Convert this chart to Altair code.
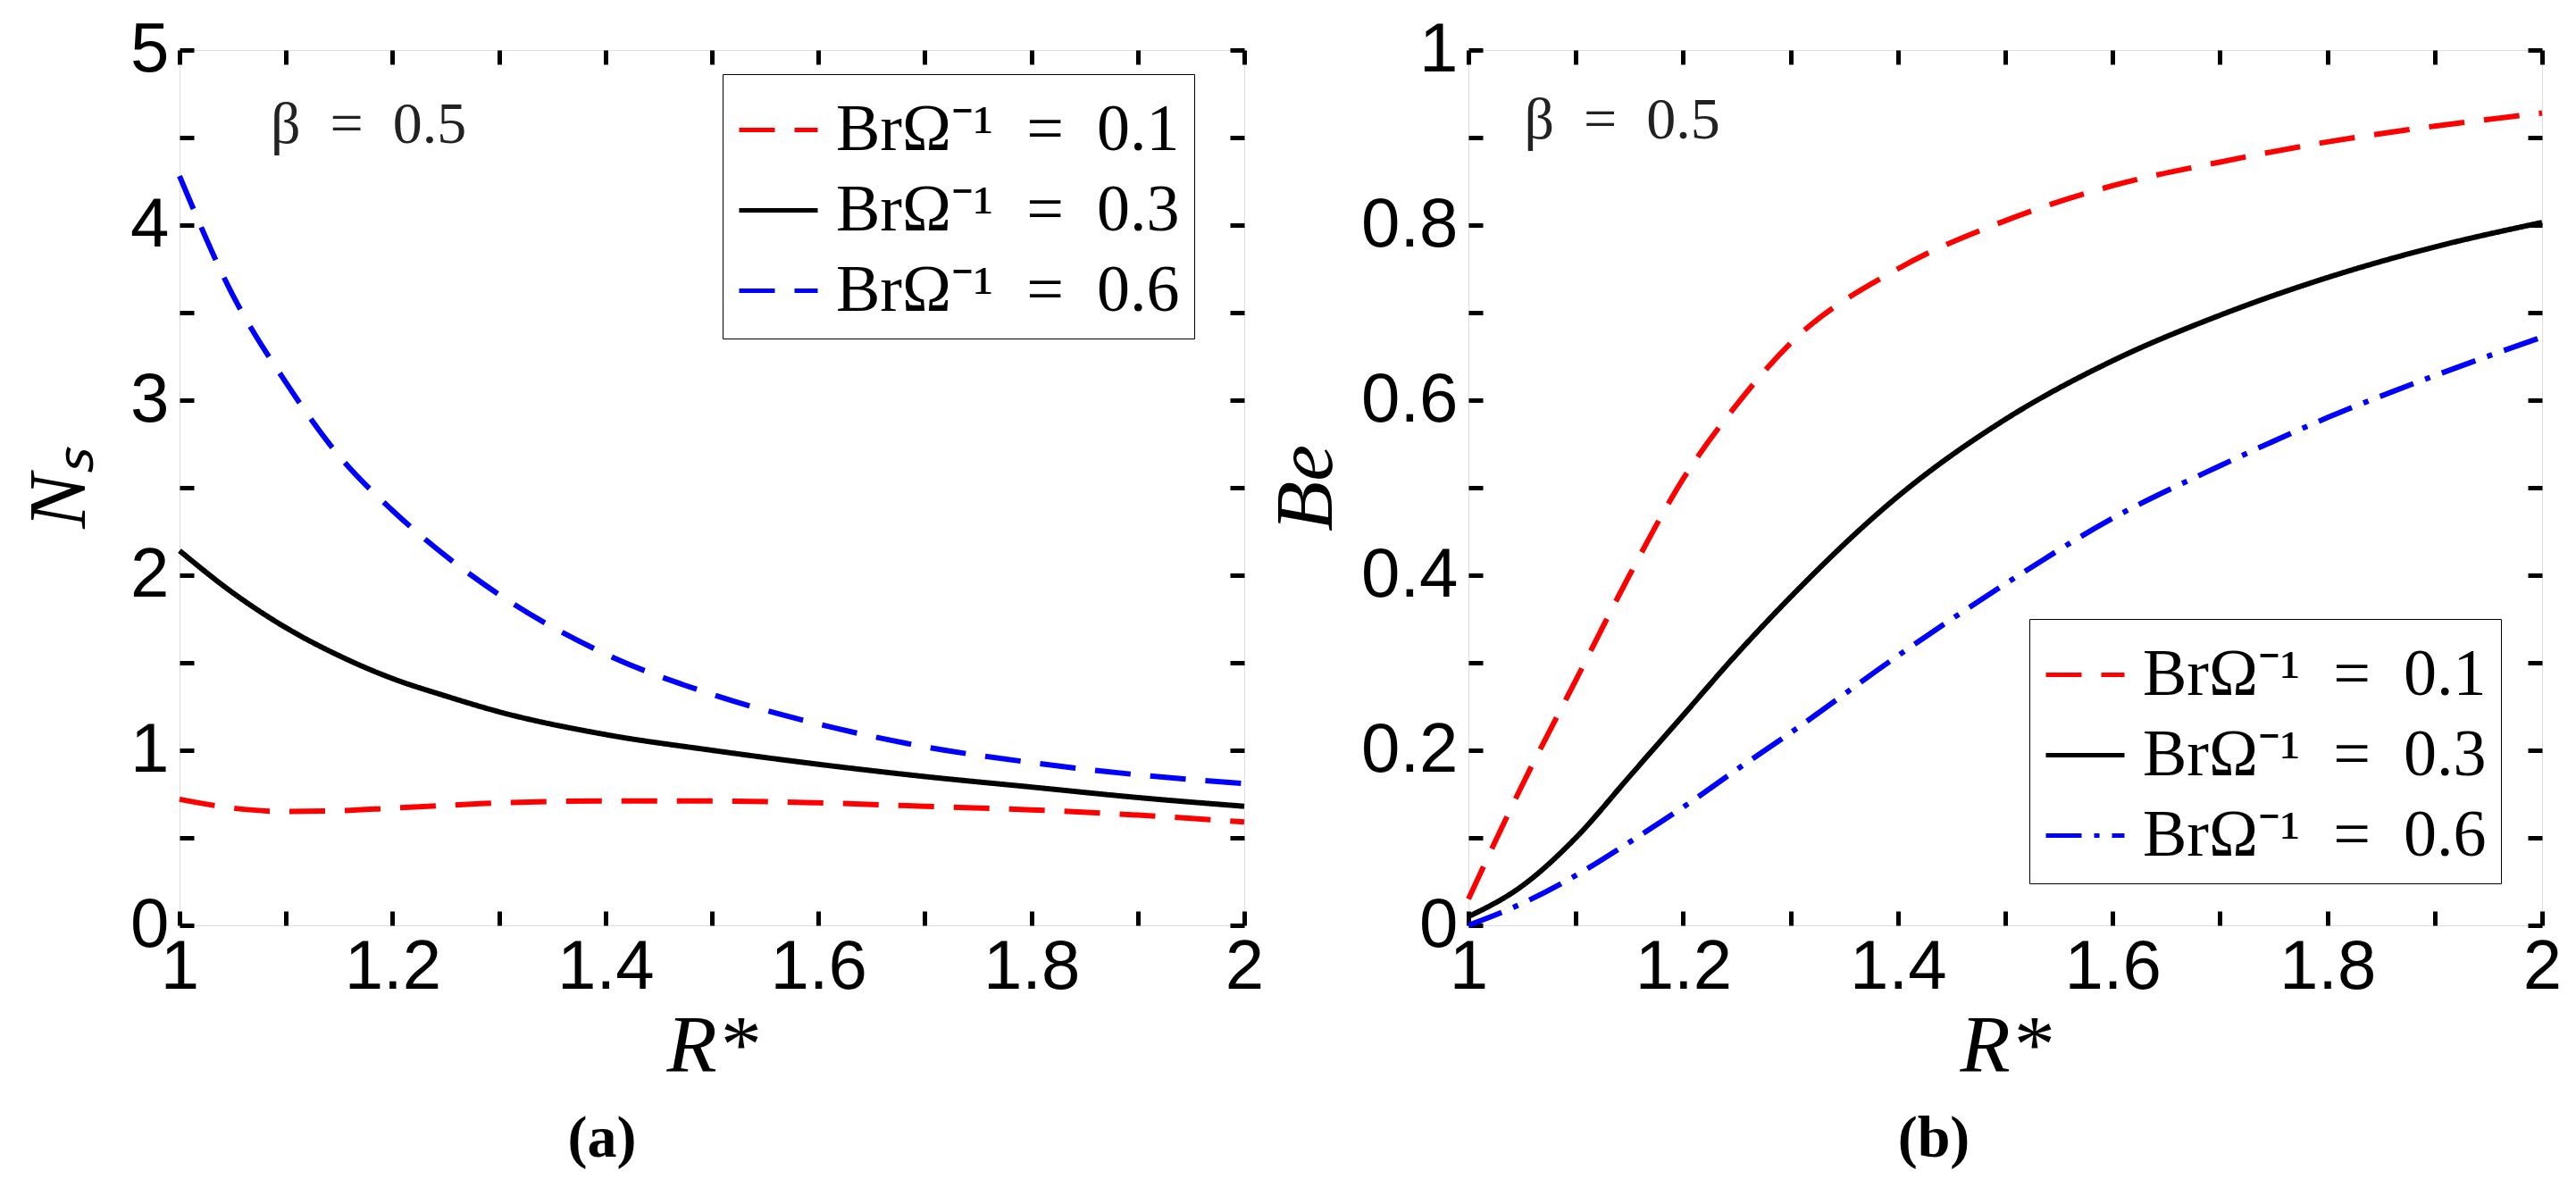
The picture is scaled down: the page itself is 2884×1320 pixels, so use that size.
import altair as alt
import pandas as pd

R = [1.0, 1.05, 1.1, 1.15, 1.2, 1.25, 1.3, 1.4, 1.5, 1.6, 1.7, 1.8, 1.9, 2.0]

ns_01 = [0.72, 0.67, 0.65, 0.655, 0.67, 0.685, 0.70, 0.71, 0.71, 0.70, 0.68, 0.66, 0.63, 0.59]
ns_03 = [2.14, 1.90, 1.70, 1.54, 1.41, 1.31, 1.22, 1.09, 1.00, 0.92, 0.85, 0.79, 0.73, 0.68]
ns_06 = [4.28, 3.60, 3.10, 2.68, 2.37, 2.11, 1.89, 1.55, 1.32, 1.15, 1.02, 0.93, 0.86, 0.81]

be_01 = [0.03, 0.16, 0.28, 0.40, 0.51, 0.595, 0.665, 0.75, 0.805, 0.845, 0.872, 0.895, 0.913, 0.928]
be_03 = [0.01, 0.045, 0.10, 0.17, 0.24, 0.31, 0.375, 0.49, 0.578, 0.645, 0.697, 0.74, 0.775, 0.803]
be_06 = [0.0, 0.025, 0.057, 0.095, 0.135, 0.178, 0.22, 0.308, 0.39, 0.465, 0.525, 0.58, 0.628, 0.672]

series = ["BrΩ⁻¹\u2002=\u20020.1", "BrΩ⁻¹\u2002=\u20020.3", "BrΩ⁻¹\u2002=\u20020.6"]
colors = ["#ff0000", "#000000", "#0000ff"]

x_label_vals = [1.0, 1.2, 1.4, 1.6, 1.8, 2.0]
x_tick_vals = [1.0, 1.1, 1.2, 1.3, 1.4, 1.5, 1.6, 1.7, 1.8, 1.9, 2.0]
ns_label_vals = [0, 1, 2, 3, 4, 5]
ns_tick_vals = [0, 0.5, 1, 1.5, 2, 2.5, 3, 3.5, 4, 4.5, 5]
be_label_vals = [0, 0.2, 0.4, 0.6, 0.8, 1.0]
be_tick_vals = [0, 0.1, 0.2, 0.3, 0.4, 0.5, 0.6, 0.7, 0.8, 0.9, 1.0]

beta_text = "β\u2002=\u20020.5"


def long_df(ys):
    rows = []
    for s, vals in zip(series, ys):
        for r, v in zip(R, vals):
            rows.append({"R": r, "val": v, "series": s})
    return pd.DataFrame(rows)


TICK_LEN = 16
TICK_W = 5


def tick_axis(orient, offset, values):
    return alt.Axis(orient=orient, offset=offset, values=values, labels=False,
                    ticks=True, tickSize=TICK_LEN, tickWidth=TICK_W, tickColor="black",
                    domain=False, grid=False, title=None)


def panel(ys, ydom, ylabels, yticks, ytitle, dashes, lx, ly, W, H, caption, cap_dx,
          beta_x, beta_y, ytitle_pad):
    df = long_df(ys)
    xs = alt.Scale(domain=[1, 2], nice=False, zero=False)
    yscale = alt.Scale(domain=ydom, nice=False, zero=False)
    leg = alt.Legend(orient="none", legendX=lx, legendY=ly, title=None,
                     symbolType="stroke", symbolStrokeWidth=5, symbolSize=7744,
                     labelFont="Liberation Serif", labelFontSize=74, labelColor="black",
                     labelLimit=900, labelOffset=18,
                     strokeColor="black", fillColor="white", padding=16, rowPadding=6)
    lines = alt.Chart(df).mark_line(strokeWidth=6, interpolate="monotone").encode(
        x=alt.X("R:Q", scale=xs, axis=alt.Axis(
            orient="bottom", values=x_label_vals, format="~g", ticks=False, domain=False,
            grid=False, labelFont="Liberation Sans", labelFontSize=78, labelColor="black",
            labelPadding=8, labelFlush=False, labelOverlap=False,
            title="R*", titleFont="Liberation Serif", titleFontStyle="italic",
            titleFontWeight="normal", titleFontSize=92, titleColor="black",
            titlePadding=4)),
        y=alt.Y("val:Q", scale=yscale, axis=alt.Axis(
            orient="left", values=ylabels, format="~g", ticks=False, domain=False,
            grid=False, labelFont="Liberation Sans", labelFontSize=78, labelColor="black",
            labelPadding=12, labelFlush=False, labelOverlap=False,
            title=ytitle, titleFont="Liberation Serif", titleFontStyle="italic",
            titleFontWeight="normal", titleFontSize=92, titleColor="black",
            titlePadding=ytitle_pad)),
        color=alt.Color("series:N", scale=alt.Scale(domain=series, range=colors), legend=leg),
        strokeDash=alt.StrokeDash("series:N", scale=alt.Scale(domain=series, range=dashes),
                                  legend=leg),
    )
    tdf = pd.DataFrame({"R": [beta_x], "val": [beta_y], "t": [beta_text]})
    txt = alt.Chart(tdf).mark_text(align="left", baseline="middle", font="Liberation Serif",
                                   fontSize=66, color="#222222").encode(
        x=alt.X("R:Q", scale=xs, axis=tick_axis("top", -H, x_tick_vals)),
        y=alt.Y("val:Q", scale=yscale, axis=tick_axis("right", -W, yticks)),
        text="t:N",
    )
    dummy = alt.Chart(tdf).mark_point(opacity=0).encode(
        x=alt.X("R:Q", scale=xs, axis=tick_axis("bottom", -H, x_tick_vals)),
        y=alt.Y("val:Q", scale=yscale, axis=tick_axis("left", -W, yticks)),
    )
    return alt.layer(lines, txt, dummy).resolve_axis(x="independent", y="independent").properties(
        width=W, height=H,
        title=alt.TitleParams(text=caption, orient="bottom", anchor="middle",
                              font="Liberation Serif", fontSize=66, fontWeight="bold",
                              color="black", dx=cap_dx, offset=26),
    )


H = 980
left = panel([ns_01, ns_03, ns_06], [0, 5], ns_label_vals, ns_tick_vals, "Nₛ",
             [[40, 22], [1, 0], [40, 22]], 608, 27, 1192, H, "(a)", -123,
             1.0856, 4.57, 32)
right = panel([be_01, be_03, be_06], [0, 1], be_label_vals, be_tick_vals, "Be",
              [[40, 22], [1, 0], [40, 14, 6, 14]], 628, 637, 1202, H, "(b)", -80,
              1.052, 0.919, 14)

chart = alt.hconcat(left, right, spacing=0).resolve_scale(
    x="independent", y="independent", color="independent", strokeDash="independent"
).resolve_legend(color="independent", strokeDash="independent").properties(
    padding={"left": 12, "top": 8, "right": 5, "bottom": 5}
).configure_view(stroke="black", strokeWidth=8).configure_legend(
    strokeWidth=3
).configure(background="white")

chart.save("out.html", embed_options={"renderer": "svg", "actions": False})
